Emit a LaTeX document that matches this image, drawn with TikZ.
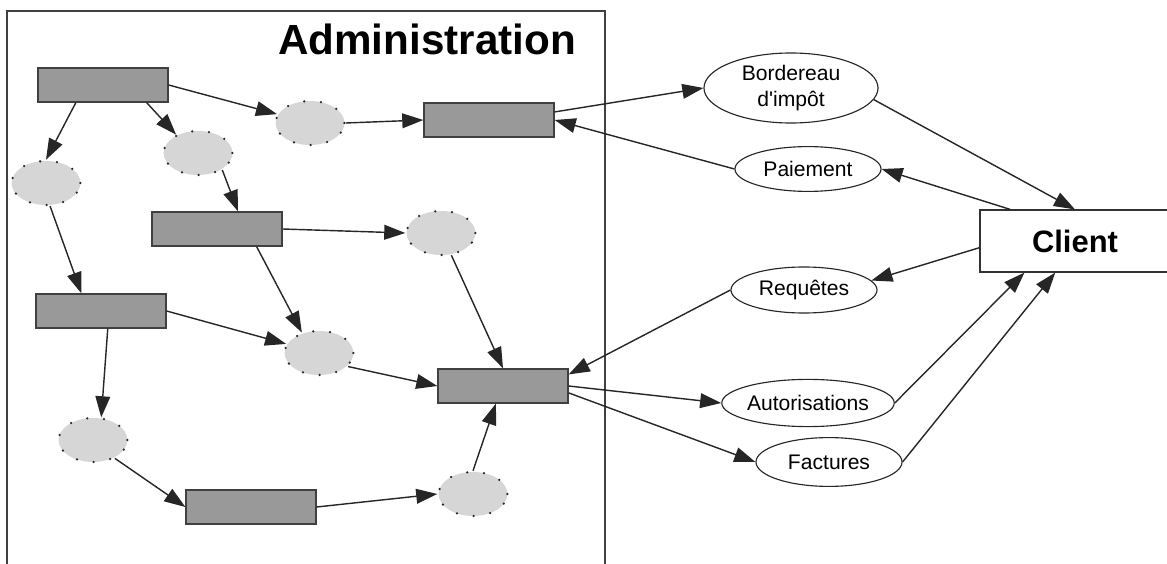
\documentclass[tikz,border=0pt]{standalone}
\usepackage{fontspec}
\setmainfont{Liberation Sans}
\newfontfamily\flfont{Liberation Sans}
\usepackage{tikz}
\usetikzlibrary{arrows.meta,shapes.geometric}

\begin{document}
\begin{tikzpicture}[x=0.025cm,y=-0.025cm,>={Triangle[length=15pt,width=10.5pt]},
    proc/.style={draw=black!75,fill=black!40,line width=0.9pt,minimum width=3.25cm,minimum height=0.85cm,inner sep=0pt},
    etat/.style={ellipse,draw=black!85,fill=black!16,line width=1.8pt,line cap=round,dash pattern=on 0pt off 12pt,minimum width=1.72cm,minimum height=1.1cm,inner sep=0pt},
    flux/.style={ellipse,draw=black!85,fill=white,line width=0.8pt,inner sep=0pt,align=center,font=\flfont\fontsize{15}{18}\selectfont},
    fl/.style={->,line width=1pt,black!85}]

      \useasboundingbox (0,0) rectangle (1167,564);
      \draw[black!75,line width=0.8pt] (7,564) -- (7,11) -- (605,11) -- (605,564); % cadre ouvert en bas
      \node[anchor=base,font=\bfseries\fontsize{30}{36}\selectfont] (titre) at (427,55) {Administration};

      \node[proc] (ra) at (103,85) {};
      \node[proc] (rb) at (489,120) {};
      \node[proc] (rc) at (217,229) {};
      \node[proc] (rd) at (101,311) {};
      \node[proc] (re) at (503,386) {};
      \node[proc] (rf) at (251,507) {};
      \node[etat] (ea) at (310,123) {};
      \node[etat] (eb) at (198,153) {};
      \node[etat] (ec) at (46,183) {};
      \node[etat] (ed) at (441,233) {};
      \node[etat] (ee) at (319,353) {};
      \node[etat] (ef) at (93,440) {};
      \node[etat] (eg) at (473,494) {};

      \node[flux,minimum width=4.35cm,minimum height=1.75cm] (bord) at (791,88) {Bordereau\\d'impôt};
      \node[flux,minimum width=3.65cm,minimum height=1.12cm] (paie) at (808,169) {Paiement};
      \node[flux,minimum width=3.65cm,minimum height=1.15cm] (req) at (804,290) {Requêtes};
      \node[flux,minimum width=3.7cm,minimum height=1.18cm] (aut) at (808,403) {Autorisations};
      \node[flux,minimum width=3.65cm,minimum height=1.22cm] (fact) at (829,462) {Factures};
      \node[draw=black!80,fill=white,line width=0.8pt,minimum width=4.75cm,minimum height=1.55cm,font=\bfseries\fontsize{22}{26}\selectfont] (client) at (1075,241) {Client};

      % interne
      \draw[fl] (ra.east) -- (ea);
      \draw[fl] (ra.-22) -- (eb.140);
      \draw[fl] (ra.-147) -- (ec.north);
      \draw[fl] (ea.east) -- (rb.west);
      \draw[fl] (eb.-35) -- (rc.40);
      \draw[fl] (ec.-80) -- (rd.138);
      \draw[fl] (rc.east) -- (ed.west);
      \draw[fl] (rc.-24) -- (ee.130);
      \draw[fl] (ed.-65) -- (re.north);
      \draw[fl] (rd.east) -- (ee);
      \draw[fl] (rd.-69) -- (ef.70);
      \draw[fl] (ee.-25) -- (re.west);
      \draw[fl] (ef.-40) -- (rf.west);
      \draw[fl] (rf.east) -- (eg.west);
      \draw[fl] (eg.north) -- (re.-112);

      % vers et depuis le client
      \draw[fl] (rb.7) -- (bord.west);
      \draw[fl] (paie.west) -- (rb.east);
      \draw[fl] (bord.-8) -- (client.north);
      \draw[fl] (client.154) -- (paie.east);
      \draw[fl] (client.184) -- (req.8);
      \draw[fl] (req.west) -- (re.10);
      \draw[fl] (re.east) -- (aut.west);
      \draw[fl] (re.-6) -- (fact.west);
      \draw[fl] (aut.east) -- (client.-148);
      \draw[fl] (fact.east) -- (client.-122);
    \end{tikzpicture}
\end{document}
